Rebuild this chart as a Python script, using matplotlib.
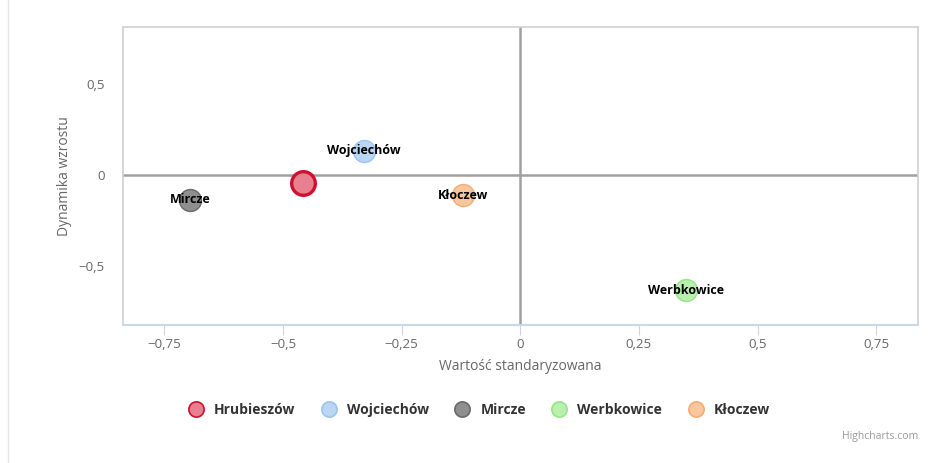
import matplotlib
matplotlib.use("Agg")
from matplotlib import pyplot as plt
from matplotlib.lines import Line2D

names = ["Hrubieszów", "Wojciechów", "Mircze", "Werbkowice", "Kłoczew"]
x_vals = [-0.457, -0.329, -0.695, 0.350, -0.120]
y_vals = [-0.044, 0.132, -0.137, -0.632, -0.110]
fills = ["#e88090", "#b9d7f4", "#8f8f8f", "#b8f0ae", "#f8c69c"]
edges = ["#d01030", "#9cc4ec", "#6a6a6a", "#98e48c", "#f4ac74"]
x_ticks = [-0.75, -0.5, -0.25, 0, 0.25, 0.5, 0.75]
y_ticks = [-0.5, 0, 0.5]

plt.rcParams['font.family'] = ['Open Sans', 'DejaVu Sans']

fig = plt.figure(figsize=(9.37, 4.63), dpi=100)
ax = fig.add_axes([123 / 937, 1 - 325 / 463, 795 / 937, 298 / 463])

ax.axhline(0, color="#a0a0a0", linewidth=1.8, zorder=1)
ax.axvline(0, color="#a0a0a0", linewidth=1.8, zorder=1)

for i, name in enumerate(names):
    big = i == 0
    ax.scatter(x_vals[i], y_vals[i], s=(290 if big else 250), c=fills[i],
               edgecolors=edges[i], linewidths=(2.4 if big else 1.0), zorder=3)
    if not big:
        ax.text(x_vals[i], y_vals[i], name, ha="center", va="center",
                fontsize=9, fontweight="bold", color="black", zorder=4)

ax.set_xlim(-0.837, 0.838)
ax.set_ylim(-0.824, 0.813)
ax.set_xticks(x_ticks)
ax.set_yticks(y_ticks)
ax.set_xticklabels([("%g" % t).replace(".", ",").replace("-", "\u2212") for t in x_ticks])
ax.set_yticklabels([("%g" % t).replace(".", ",").replace("-", "\u2212") for t in y_ticks])
ax.tick_params(axis="x", length=7, color="#ccd6eb", labelcolor="#666666", labelsize=9.5, pad=2)
ax.tick_params(axis="y", length=0, labelcolor="#666666", labelsize=9.5, pad=13)
for side in ["top", "right", "left"]:
    ax.spines[side].set_color("#d0d0d0")
    ax.spines[side].set_linewidth(1.2)
ax.spines["bottom"].set_color("#ccd6eb")
ax.spines["bottom"].set_linewidth(1.5)

ax.set_xlabel("Wartość standaryzowana", color="#666666", fontsize=10, labelpad=6)
ax.set_ylabel("Dynamika wzrostu", color="#666666", fontsize=10, labelpad=5)

handles = [Line2D([], [], marker="o", linestyle="", markersize=11,
                  markerfacecolor=fills[i], markeredgecolor=edges[i],
                  markeredgewidth=1.2) for i in range(len(names))]
fig.legend(handles, names, loc="center", bbox_to_anchor=(0.508, 1 - 410 / 463),
           ncol=5, frameon=False, prop={"weight": "bold", "size": 10},
           handletextpad=0.3, columnspacing=1.4, labelcolor="#333333")

fig.text(918 / 937, 1 - 437 / 463, "Highcharts.com", ha="right", va="center",
         fontsize=7.5, color="#999999")
fig.add_artist(Line2D([8 / 937, 8 / 937], [0, 1], color="#e6e6e6", linewidth=1))

fig.savefig("out.png", dpi=100)
